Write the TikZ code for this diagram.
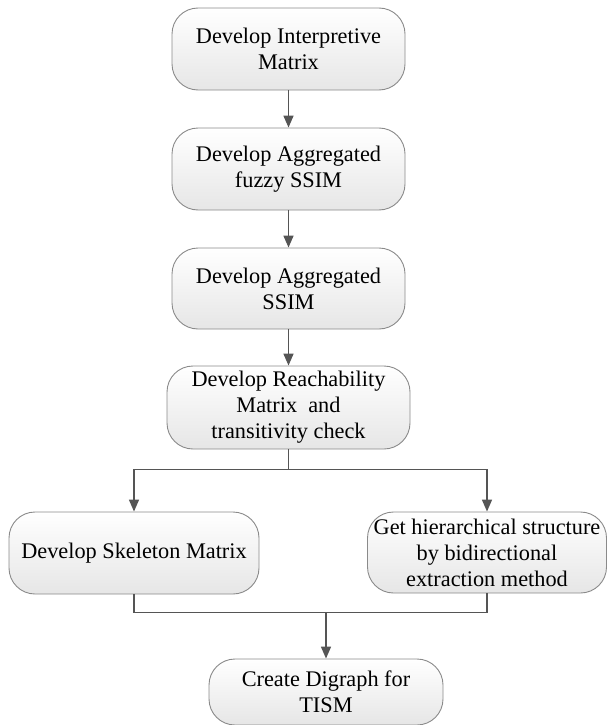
\documentclass[tikz,border=0pt]{standalone}
\usepackage{fontspec}
\setmainfont{Liberation Serif}
\usetikzlibrary{arrows.meta,calc}

\definecolor{boxline}{HTML}{8A8A8A}
\definecolor{flowline}{HTML}{555555}
\definecolor{boxbottom}{HTML}{E6E6E6}

\tikzset{
  stepbox/.style={
    draw=boxline, line width=0.9pt, rounded corners=26pt,
    top color=white, bottom color=boxbottom,
    align=center, inner sep=0pt,
    font=\fontsize{22.3}{26}\selectfont
  },
  flow/.style={draw=flowline, line width=1.6pt},
  flowarrow/.style={flow, -{Triangle[length=12pt,width=10pt]}}
}

\begin{document}
\begin{tikzpicture}[x=1pt,y=-1pt]
  \useasboundingbox (0,0) rectangle (608,725);

  % main chain
  \node[stepbox, minimum width=233pt, minimum height=82pt] (b1) at (288.5,49)
    {Develop Interpretive\\Matrix};
  \node[stepbox, minimum width=233pt, minimum height=82pt] (b2) at (288.5,169)
    {Develop Aggregated\\fuzzy SSIM};
  \node[stepbox, minimum width=233pt, minimum height=81pt] (b3) at (288.5,288.5)
    {Develop Aggregated\\SSIM};
  \node[stepbox, minimum width=243pt, minimum height=83pt] (b4) at (288.5,407.5)
    {Develop Reachability\\Matrix~ and\\transitivity check};

  % two branches
  \node[stepbox, minimum width=250pt, minimum height=82pt] (b5) at (134,553)
    {Develop Skeleton Matrix};
  \node[stepbox, minimum width=239pt, minimum height=81pt] (b6) at (487,552.5)
    {Get hierarchical structure\\by bidirectional\\extraction method};

  % final step
  \node[stepbox, minimum width=234pt, minimum height=66pt] (b7) at (326,692)
    {Create Digraph for\\TISM};

  % connectors of the chain
  \draw[flowarrow] (b1.south) -- (b2.north);
  \draw[flowarrow] (b2.south) -- (b3.north);
  \draw[flowarrow] (b3.south) -- (b4.north);

  % fork into the two branches
  \coordinate (split) at ($(b4.south)+(0,20)$);
  \draw[flow] (b4.south) -- (split);
  \draw[flowarrow] (split) -| (b5.north);
  \draw[flowarrow] (split) -| (b6.north);

  % join of the branches
  \coordinate (join) at ($(b7.north)+(0,-46)$);
  \draw[flow] (b5.south) |- (join) -| (b6.south);
  \draw[flowarrow] (join) -- (b7.north);
\end{tikzpicture}
\end{document}
